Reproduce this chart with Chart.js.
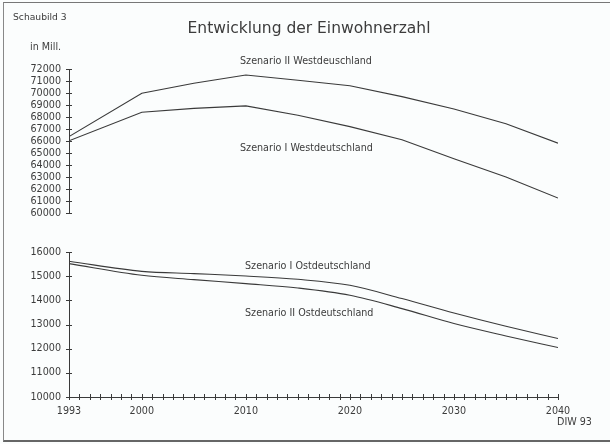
<!DOCTYPE html>
<html>
<head>
<meta charset="utf-8">
<script src="https://cdn.jsdelivr.net/npm/chart.js@4"></script>
<style>
  body { margin: 0; background: #fbfdfd; }
  #page { position: relative; width: 610px; height: 444px; overflow: hidden; background: #fbfdfd;
          font-family: "DejaVu Sans", sans-serif; color: #3c3c3c; }
  #frame { position: absolute; left: 3px; top: 2px; width: 606px; height: 437px;
           border-top: 1px solid #777; border-left: 1px solid #888; border-bottom: 2px solid #666; }
  canvas { position: absolute; left: 0; }
  .txt { position: absolute; white-space: nowrap; line-height: 12px; font-size: 9.6px; }
</style>
</head>
<body>
<div id="page">
  <div id="frame"></div>
  <canvas id="topChart" width="610" height="230" style="top:0"></canvas>
  <canvas id="bottomChart" width="610" height="214" style="top:230px"></canvas>

  <div class="txt" style="left:13px; top:11px; font-size:9.2px">Schaubild 3</div>
  <div class="txt" style="left:309px; top:19px; font-size:15.5px; line-height:18px; transform:translateX(-50%)">Entwicklung der Einwohnerzahl</div>
  <div class="txt" style="left:30px; top:41px">in Mill.</div>
  <div class="txt" style="left:240px; top:55px">Szenario II Westdeuschland</div>
  <div class="txt" style="left:240px; top:142px">Szenario I Westdeutschland</div>
  <div class="txt" style="left:245px; top:260px">Szenario I Ostdeutschland</div>
  <div class="txt" style="left:245px; top:307px">Szenario II Ostdeutschland</div>
  <div class="txt" style="left:557px; top:416px">DIW 93</div>
</div>

<script>
// Bevölkerung in Tausend
const years = [1993, 2000, 2005, 2010, 2015, 2020, 2025, 2030, 2035, 2040];
const westII = [66370, 69980, 70810, 71500, 71060, 70610, 69700, 68670, 67430, 65820];
const westI = [66015, 68400, 68720, 68925, 68150, 67200, 66100, 64520, 63000, 61250];
const eastI = [15615, 15200, 15105, 15007, 14870, 14622, 14072, 13476, 12926, 12417];
const eastII = [15520, 15036, 14858, 14693, 14511, 14209, 13658, 13038, 12525, 12045];

const xTickLabels = [1993, 2000, 2010, 2020, 2030, 2040];
const topRange = [60000, 72000];
const bottomRange = [10000, 16000];

const ink = '#3a3a3a';

function points(values) {
    return years.map((yr, i) => ({ x: yr, y: values[i] }));
}

function lineSet(label, values, smooth) {
    return {
        label: label,
        data: points(values),
        borderColor: ink,
        borderWidth: 1.1,
        pointRadius: 0,
        tension: 0,
        cubicInterpolationMode: smooth ? 'monotone' : 'default',
        fill: false
    };
}

// kleine Kreuze an jedem Tick, wie beim Plotter
const crossTicks = {
    id: 'crossTicks',
    afterDraw(chart) {
        const ctx = chart.ctx;
        ctx.save();
        ctx.strokeStyle = ink;
        ctx.lineWidth = 1;
        Object.values(chart.scales).forEach(scale => {
            if (!scale.options.display) return;
            scale.ticks.forEach(t => {
                const p = Math.round(scale.getPixelForValue(t.value)) + 0.5;
                ctx.beginPath();
                if (scale.axis === 'x') {
                    ctx.moveTo(p, scale.top - 3);
                    ctx.lineTo(p, scale.top + 3);
                } else {
                    ctx.moveTo(scale.right - 3, p);
                    ctx.lineTo(scale.right + 3, p);
                }
                ctx.stroke();
            });
        });
        ctx.restore();
    }
};

const tickFont = { family: 'DejaVu Sans', size: 9.6 };

function xScale(show) {
    const s = {
        type: 'linear',
        min: 1993,
        max: 2040,
        display: show,
        grid: { display: false, drawTicks: false },
        border: { display: show, color: ink, width: 1 },
        afterBuildTicks: scale => {
            const t = [];
            for (let v = 1993; v <= 2040; v++) t.push({ value: v });
            scale.ticks = t;
        },
        ticks: {
            autoSkip: false,
            maxRotation: 0,
            padding: 9,
            color: '#3c3c3c',
            font: tickFont,
            callback: v => xTickLabels.includes(v) ? String(v) : ''
        }
    };
    if (show) s.afterFit = scale => { scale.height = 30; };
    return s;
}

function yScale(range) {
    return {
        min: range[0],
        max: range[1],
        grid: { display: false, drawTicks: false },
        border: { color: ink, width: 1 },
        afterFit: scale => { scale.width = 69; },
        ticks: {
            stepSize: 1000,
            autoSkip: false,
            padding: 8,
            color: '#3c3c3c',
            font: tickFont,
            callback: v => String(v)
        }
    };
}

function baseOptions(padding, showX, range) {
    return {
        responsive: false,
        animation: false,
        layout: { padding: padding },
        plugins: { legend: { display: false }, tooltip: { enabled: false } },
        scales: { x: xScale(showX), y: yScale(range) }
    };
}

new Chart(document.getElementById('topChart'), {
    type: 'line',
    data: { datasets: [lineSet('Szenario II Westdeuschland', westII, false), lineSet('Szenario I Westdeutschland', westI, false)] },
    options: baseOptions({ left: 0, top: 69, right: 52, bottom: 17 }, false, topRange),
    plugins: [crossTicks]
});

new Chart(document.getElementById('bottomChart'), {
    type: 'line',
    data: { datasets: [lineSet('Szenario I Ostdeutschland', eastI, true), lineSet('Szenario II Ostdeutschland', eastII, true)] },
    options: baseOptions({ left: 0, top: 22, right: 52, bottom: 17 }, true, bottomRange),
    plugins: [crossTicks]
});
</script>
</body>
</html>
